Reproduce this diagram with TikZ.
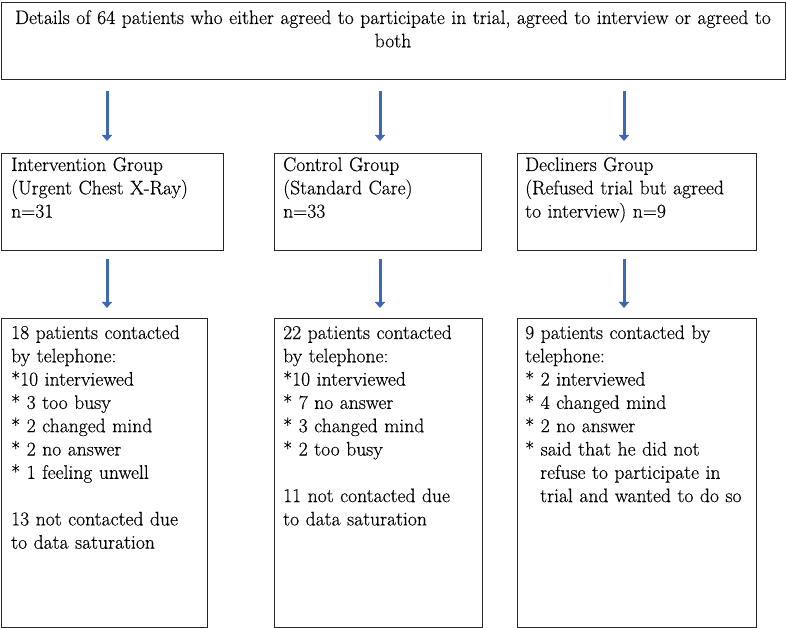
\documentclass[tikz,border=0pt]{standalone}
\usepackage{fontspec}
\setmainfont{Latin Modern Roman}[FakeBold=0.35]
\usetikzlibrary{arrows.meta}
\definecolor{arrblue}{RGB}{62,104,180}
\begin{document}
\begin{tikzpicture}[x=1pt,y=-1pt,
  boxst/.style={draw=black!85,line width=1.1pt,inner sep=0pt,anchor=north west},
  txt/.style={inner sep=0pt,anchor=base west,align=left,font=\fontsize{19.6}{23.3}\selectfont},
  arr/.style={draw=arrblue,line width=3pt,-{Triangle[width=10pt,length=6pt]}}]
\useasboundingbox (0,0) rectangle (787,628);
% boxes
\node[boxst,minimum width=784pt,minimum height=77pt] (top) at (1,2) {};
\node[boxst,minimum width=222pt,minimum height=97pt] (m1) at (1,153) {};
\node[boxst,minimum width=207pt,minimum height=97pt] (m2) at (274,153) {};
\node[boxst,minimum width=239pt,minimum height=97pt] (m3) at (517,153) {};
\node[boxst,minimum width=206pt,minimum height=309pt] (b1) at (1,318) {};
\node[boxst,minimum width=208pt,minimum height=309pt] (b2) at (274,318) {};
\node[boxst,minimum width=239pt,minimum height=309pt] (b3) at (517,318) {};
% texts
\node[txt,anchor=base,align=center,text width=780pt] (ttop) at (393,24)
  {Details of 64 patients who either agreed to participate in trial, agreed to interview or agreed to\\both};
\node[txt,text width=205pt] (tm1) at (11,171) {Intervention Group\\(Urgent Chest X-Ray)\\n=31};
\node[txt,text width=195pt] (tm2) at (283,171) {Control Group\\(Standard Care)\\n=33};
\node[txt,text width=228pt] (tm3) at (525,171) {Decliners Group\\(Refused trial but agreed\\to interview) n=9};
\node[txt,text width=195pt] (tb1) at (11,339) {18 patients contacted\\by telephone:\\{*}10 interviewed\\{*} 3 too busy\\{*} 2 changed mind\\{*} 2 no answer\\{*} 1 feeling unwell\\[23.3pt]13 not contacted due\\to data saturation};
\node[txt,text width=200pt] (tb2) at (283,339) {22 patients contacted\\by telephone:\\{*}10 interviewed\\{*} 7 no answer\\{*} 3 changed mind\\{*} 2 too busy\\[23.3pt]11 not contacted due\\to data saturation};
\node[txt,text width=228pt] (tb3) at (525,339) {9 patients contacted by\\telephone:\\{*} 2 interviewed\\{*} 4 changed mind\\{*} 2 no answer\\{*} said that he did not\\\hspace*{15pt}refuse to participate in\\\hspace*{15pt}trial and wanted to do so};
% arrow end points
\coordinate (a1s) at (107,91);  \coordinate (a1e) at (107,141);
\coordinate (a2s) at (380,91);  \coordinate (a2e) at (380,141);
\coordinate (a3s) at (624,91);  \coordinate (a3e) at (624,141);
\coordinate (c1s) at (107,259); \coordinate (c1e) at (107,308);
\coordinate (c2s) at (380,259); \coordinate (c2e) at (380,308);
\coordinate (c3s) at (624,259); \coordinate (c3e) at (624,308);
\draw[arr] (a1s) -- (a1e);
\draw[arr] (a2s) -- (a2e);
\draw[arr] (a3s) -- (a3e);
\draw[arr] (c1s) -- (c1e);
\draw[arr] (c2s) -- (c2e);
\draw[arr] (c3s) -- (c3e);
\end{tikzpicture}
\end{document}
